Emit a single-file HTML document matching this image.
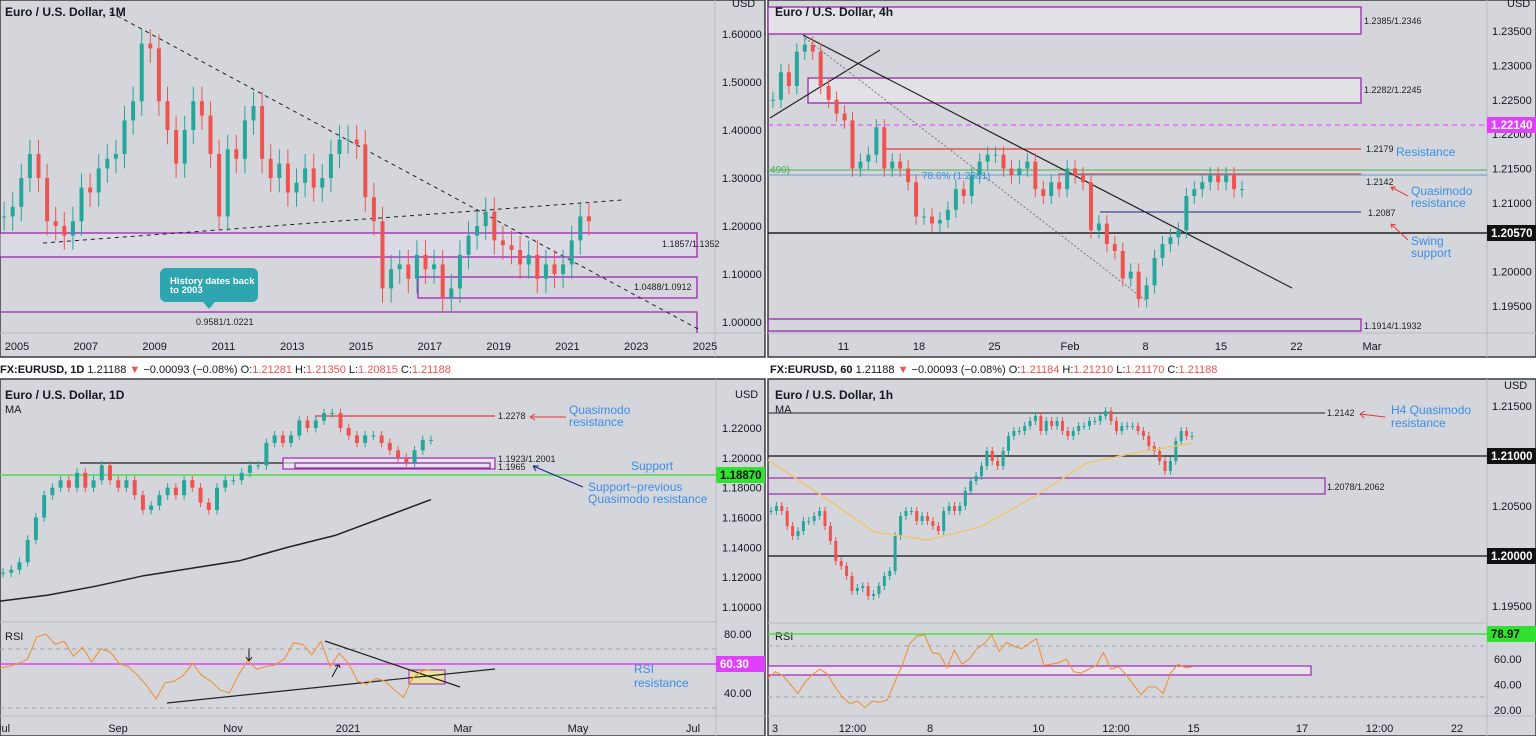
<!DOCTYPE html>
<html><head><meta charset="utf-8"><style>
html,body{margin:0;padding:0;background:#fff;}
svg{display:block;font-family:"Liberation Sans",sans-serif;}
.t{font-size:11px;fill:#131722}
.ax{font-size:11px;fill:#131722}
.ttl{font-size:12px;font-weight:bold;fill:#131722}
.blue{font-size:12px;fill:#3a8ee6}
.sm{font-size:9px;fill:#222}
</style></head><body>
<svg id="s" width="1536" height="736" viewBox="0 0 1536 736" xmlns="http://www.w3.org/2000/svg">
<rect x="0" y="0" width="1536" height="736" fill="#ffffff"/>
<rect x="0" y="0" width="765" height="357" fill="#d4d6dc" stroke="#3a3a3a" stroke-width="1.5"/>
<rect x="768" y="0" width="768" height="357" fill="#d4d6dc" stroke="#3a3a3a" stroke-width="1.5"/>
<rect x="0" y="379" width="765" height="357" fill="#d4d6dc" stroke="#3a3a3a" stroke-width="1.5"/>
<rect x="768" y="379" width="768" height="357" fill="#d4d6dc" stroke="#3a3a3a" stroke-width="1.5"/>
<g stroke="#b8bbc3" stroke-width="1">
<line x1="715" y1="0" x2="715" y2="357"/><line x1="0" y1="333" x2="765" y2="333"/>
<line x1="1487" y1="0" x2="1487" y2="357"/><line x1="768" y1="333" x2="1536" y2="333"/>
<line x1="716" y1="379" x2="716" y2="736"/><line x1="0" y1="716" x2="765" y2="716"/><line x1="0" y1="622" x2="716" y2="622"/>
<line x1="1487" y1="379" x2="1487" y2="736"/><line x1="768" y1="716" x2="1536" y2="716"/><line x1="768" y1="623" x2="1487" y2="623"/>
</g>
<text x="0" y="373" class="t" font-size="12"><tspan font-weight="bold">FX:EURUSD, 1D</tspan> 1.21188 <tspan fill="#ef5350">▼</tspan> −0.00093 (−0.08%) O:<tspan fill="#ef5350">1.21281</tspan> H:<tspan fill="#ef5350">1.21350</tspan> L:<tspan fill="#ef5350">1.20815</tspan> C:<tspan fill="#ef5350">1.21188</tspan></text>
<text x="770" y="373" class="t" font-size="12"><tspan font-weight="bold">FX:EURUSD, 60</tspan> 1.21188 <tspan fill="#ef5350">▼</tspan> −0.00093 (−0.08%) O:<tspan fill="#ef5350">1.21184</tspan> H:<tspan fill="#ef5350">1.21210</tspan> L:<tspan fill="#ef5350">1.21170</tspan> C:<tspan fill="#ef5350">1.21188</tspan></text>

<text x="5" y="16" class="ttl">Euro / U.S. Dollar, 1M</text>
<text x="732" y="7" class="ax" font-size="9">USD</text>
<g fill="none" stroke="#9c27b0" stroke-width="1.3">
<rect x="-2" y="233" width="699" height="24" fill="rgba(230,225,240,0.4)"/>
<rect x="418" y="277" width="279" height="21"/>
<path d="M-2 312 H697 V333"/>
</g>
<text x="662" y="247" class="sm">1.1857/1.1352</text>
<text x="634" y="290" class="sm">1.0488/1.0912</text>
<text x="196" y="325" class="sm">0.9581/1.0221</text>
<line x1="110" y1="12" x2="700" y2="330" stroke="#222" stroke-dasharray="4,4"/>
<line x1="43" y1="243" x2="622" y2="200" stroke="#222" stroke-dasharray="4,4"/>
<g>
<rect x="160" y="268" width="98" height="34" rx="6" fill="#2fa5b0"/>
<path d="M203 302 L209 309 L215 302 Z" fill="#2fa5b0"/>
<text x="170" y="284" font-size="9.5" font-weight="bold" fill="#fff">History dates back</text>
<text x="170" y="293" font-size="9.5" font-weight="bold" fill="#fff">to 2003</text>
</g>

<text x="1507" y="7" class="ax" font-size="9">USD</text>
<g stroke="#9c27b0" stroke-width="1.3" fill="#e2e2e6">
<rect x="768" y="7" width="593" height="27"/>
<rect x="808" y="78" width="553" height="25"/>
<rect x="768" y="319" width="593" height="12" fill="none"/>
</g>
<text x="775" y="16" class="ttl">Euro / U.S. Dollar, 4h</text>
<text x="1364" y="24" class="sm">1.2385/1.2346</text>
<text x="1364" y="93" class="sm">1.2282/1.2245</text>
<text x="1364" y="329" class="sm">1.1914/1.1932</text>
<line x1="768" y1="125" x2="1487" y2="125" stroke="#e040fb" stroke-dasharray="5,4"/>
<line x1="885" y1="149" x2="1361" y2="149" stroke="#e53935" stroke-width="1.2"/>
<line x1="768" y1="170" x2="1487" y2="170" stroke="#4caf50"/>
<line x1="768" y1="175" x2="1487" y2="175" stroke="#5a9fd4"/>
<line x1="1058" y1="174" x2="1361" y2="174" stroke="#e53935"/>
<line x1="1100" y1="212" x2="1361" y2="212" stroke="#1a237e"/>
<line x1="768" y1="233" x2="1487" y2="233" stroke="#222" stroke-width="1.5"/>
<line x1="803" y1="35" x2="1292" y2="288" stroke="#222" stroke-width="1.2"/>
<line x1="770" y1="118" x2="880" y2="50" stroke="#222" stroke-width="1.2"/>
<line x1="805" y1="38" x2="1145" y2="300" stroke="#777" stroke-dasharray="2,2"/>
<text x="770" y="173" font-size="10" fill="#4caf50">490)</text>
<text x="922" y="179" font-size="10" fill="#3a8ee6">78.6% (1.2381)</text>
<text x="1366" y="152" class="sm">1.2179</text>
<text x="1396" y="156" class="blue">Resistance</text>
<text x="1366" y="185" class="sm">1.2142</text>
<text x="1411" y="195" class="blue">Quasimodo</text>
<text x="1411" y="207" class="blue">resistance</text>
<text x="1368" y="216" class="sm">1.2087</text>
<text x="1411" y="245" class="blue">Swing</text>
<text x="1411" y="257" class="blue">support</text>
<g stroke="#e53935" fill="none">
<path d="M1408 196 L1391 187 M1391 187 l5 0 M1391 187 l2 4"/>
<path d="M1408 240 L1391 224 M1391 224 l5 1 M1391 224 l1 4"/>
</g>

<text x="5" y="399" class="ttl">Euro / U.S. Dollar, 1D</text>
<text x="5" y="413" class="t">MA</text>
<text x="735" y="398" class="ax" font-size="9">USD</text>
<line x1="315" y1="416" x2="495" y2="416" stroke="#e53935" stroke-width="1.2"/>
<line x1="80" y1="463" x2="490" y2="463" stroke="#222" stroke-width="1.3"/>
<g fill="none" stroke="#9c27b0" stroke-width="1.2">
<rect x="283" y="458" width="212" height="11" fill="rgba(240,235,245,0.6)"/>
<rect x="295" y="463" width="195" height="5"/>
</g>
<line x1="0" y1="475" x2="716" y2="475" stroke="#4cdc4c" stroke-width="1.5"/>
<text x="498" y="419" class="sm">1.2278</text>
<text x="498" y="462" class="sm">1.1923/1.2001</text>
<text x="498" y="470" class="sm">1.1965</text>
<text x="569" y="414" class="blue">Quasimodo</text>
<text x="569" y="426" class="blue">resistance</text>
<text x="631" y="470" class="blue">Support</text>
<text x="588" y="491" class="blue">Support−previous</text>
<text x="588" y="503" class="blue">Quasimodo resistance</text>
<text x="634" y="673" class="blue">RSI</text>
<text x="634" y="687" class="blue">resistance</text>
<g fill="none">
<path d="M566 417 L530 417 M530 417 l5 -3 M530 417 l5 3" stroke="#e53935"/>
<path d="M583 487 L533 466 M533 466 l6 0 M533 466 l3 5" stroke="#1a237e"/>
<path d="M249 648 L249 661 M249 661 l-3 -4 M249 661 l3 -4" stroke="#111"/>
<path d="M332 677 L339 664 M339 664 l-4 2 M339 664 l1 4" stroke="#111"/>
</g>
<text x="5" y="640" class="t">RSI</text>
<line x1="0" y1="649" x2="716" y2="649" stroke="#a0a3ab" stroke-dasharray="4,4"/>
<line x1="0" y1="708" x2="716" y2="708" stroke="#a0a3ab" stroke-dasharray="4,4"/>
<line x1="0" y1="664" x2="716" y2="664" stroke="#e040fb" stroke-width="1.5"/>
<rect x="409" y="670" width="36" height="14" fill="#e8e29a" stroke="#9c27b0"/>
<line x1="325" y1="641" x2="460" y2="687" stroke="#222" stroke-width="1.2"/>
<line x1="167" y1="703" x2="495" y2="669" stroke="#222" stroke-width="1.2"/>

<text x="775" y="399" class="ttl">Euro / U.S. Dollar, 1h</text>
<text x="775" y="413" class="t">MA</text>
<text x="1504" y="389" class="ax" font-size="9">USD</text>
<line x1="768" y1="413" x2="1325" y2="413" stroke="#444" stroke-width="1.3"/>
<rect x="768" y="478" width="557" height="16" fill="none" stroke="#9c27b0" stroke-width="1.2"/>
<line x1="768" y1="456" x2="1487" y2="456" stroke="#111" stroke-width="1.3"/>
<line x1="768" y1="556" x2="1487" y2="556" stroke="#111" stroke-width="1.3"/>
<text x="1327" y="416" class="sm">1.2142</text>
<text x="1327" y="490" class="sm">1.2078/1.2062</text>
<text x="1391" y="414" class="blue">H4 Quasimodo</text>
<text x="1391" y="427" class="blue">resistance</text>
<path d="M1385 417 L1360 414 M1360 414 l5 -3 M1360 414 l4 4" stroke="#e53935" fill="none"/>
<text x="775" y="640" class="t">RSI</text>
<line x1="768" y1="646" x2="1487" y2="646" stroke="#a0a3ab" stroke-dasharray="4,4"/>
<line x1="768" y1="697" x2="1487" y2="697" stroke="#a0a3ab" stroke-dasharray="4,4"/>
<line x1="768" y1="634" x2="1487" y2="634" stroke="#4cdc4c" stroke-width="1.5"/>
<rect x="768" y="666" width="543" height="9" fill="rgba(245,235,248,0.6)" stroke="#9c27b0" stroke-width="1.2"/>

<g id="dyn"></g>
</svg>
<script>
const tlStartYear = 2004.5;
const tlCloses = [1.22,1.24,1.30,1.35,1.30,1.21,1.20,1.18,1.21,1.28,1.27,1.32,1.34,1.35,1.42,1.46,1.58,1.57,1.46,1.40,1.33,1.40,1.46,1.43,1.35,1.22,1.36,1.34,1.42,1.45,1.34,1.30,1.33,1.27,1.29,1.32,1.28,1.30,1.35,1.38,1.38,1.37,1.26,1.21,1.07,1.11,1.12,1.09,1.14,1.11,1.12,1.05,1.07,1.14,1.18,1.20,1.23,1.17,1.16,1.15,1.12,1.14,1.09,1.12,1.10,1.12,1.17,1.22,1.21];
const tlPriceTicks = [1.6,1.5,1.4,1.3,1.2,1.1,1.0];
const tlYearTicks = [2005,2007,2009,2011,2013,2015,2017,2019,2021,2023,2025];
const trCloses = [1.2250,1.2290,1.2270,1.2320,1.2330,1.2320,1.2270,1.2250,1.2230,1.2220,
 1.2150,1.2160,1.2170,1.2210,1.2150,1.2160,1.2150,1.2130,1.2080,1.2080,
 1.2070,1.2075,1.2090,1.2120,1.2110,1.2140,1.2160,1.2170,1.2170,1.2150,
 1.2140,1.2150,1.2160,1.2120,1.2110,1.2130,1.2120,1.2150,1.2140,1.2130,
 1.2060,1.2070,1.2040,1.2030,1.1990,1.2000,1.1960,1.1980,1.2020,1.2040,
 1.2050,1.2060,1.2110,1.2120,1.2130,1.2140,1.2130,1.2140,1.2120,1.2120];
const trPriceTicks = [1.235,1.23,1.225,1.22,1.215,1.21,1.2,1.195];
const trTimeLabels = ["11","18","25","Feb","8","15","22","Mar"];
const trTimeDays = [5,10,15,20,25,30,35,40];
const blCloses = [1.123,1.125,1.130,1.145,1.160,1.175,1.180,1.185,1.180,1.190,1.180,1.185,1.195,1.185,1.180,1.185,1.175,1.165,1.168,1.175,1.180,1.175,1.185,1.180,1.170,1.165,1.180,1.185,1.185,1.190,1.195,1.195,1.210,1.215,1.210,1.215,1.225,1.220,1.225,1.230,1.230,1.220,1.215,1.210,1.215,1.215,1.210,1.205,1.200,1.197,1.205,1.212,1.212];
const blMA = [1.104,1.108,1.114,1.121,1.126,1.131,1.140,1.148,1.160,1.172];
const blRSI = [57,58,60,63,78,80,73,75,65,71,61,70,68,60,58,52,45,36,47,48,52,60,52,48,42,40,52,62,56,58,59,63,74,73,66,75,58,67,60,48,46,50,48,42,37,50,55,56];
const blPriceTicks = [1.22,1.2,1.18,1.16,1.14,1.12,1.1];
const blRsiTicks = [80,40];
const blTimeLabels = ["Jul","Sep","Nov","2021","Mar","May","Jul"];
const blTimeMonths = [0,2,4,6,8,10,12];
const brCloses = [1.2045,1.2050,1.2045,1.2030,1.2020,1.2025,1.2035,1.2035,1.2040,1.2045,1.2030,1.2015,1.1995,1.1990,1.1980,1.1965,1.1968,1.1970,1.1960,1.1962,1.1970,1.1980,1.1985,1.2020,1.2040,1.2045,1.2045,1.2035,1.2040,1.2035,1.2030,1.2025,1.2045,1.2050,1.2045,1.2050,1.2065,1.2075,1.2080,1.2090,1.2105,1.2095,1.2090,1.2105,1.2120,1.2125,1.2125,1.2130,1.2135,1.2140,1.2125,1.2135,1.2130,1.2135,1.2125,1.2120,1.2125,1.2130,1.2130,1.2135,1.2135,1.2140,1.2145,1.2135,1.2125,1.2130,1.2130,1.2130,1.2125,1.2120,1.2110,1.2105,1.2095,1.2085,1.2095,1.2115,1.2125,1.2120,1.2120];
const brMA = [1.2096,1.2061,1.2024,1.2016,1.2029,1.2059,1.2093,1.2104,1.2113];
const brRSI = [45,50,47,40,33,42,48,52,48,38,30,25,27,22,27,26,28,42,55,72,78,79,65,64,53,67,56,60,68,72,79,66,73,70,68,72,76,55,56,57,60,50,49,52,55,65,52,54,48,40,32,38,38,33,49,56,53,54];
const brPriceTicks = [1.215,1.205,1.195];
const brRsiTicks = [60,40,20];
const brTimeLabels = ["3","12:00","8","10","12:00","15","17","12:00","22"];
const brTimeSlots = [0,1,2,3.4,4.4,5.4,6.8,7.8,8.8];

const NS="http://www.w3.org/2000/svg";
const dyn=document.getElementById('dyn');
function mk(tag,attrs,parent){const e=document.createElementNS(NS,tag);for(const k in attrs)e.setAttribute(k,attrs[k]);(parent||dyn).appendChild(e);return e;}
const UP="#26a69a", DN="#ef5350";
function drawCandles(closes,x0,step,yf,wick,bw,prefix){
  const g=mk('g',{});
  
  
  closes.forEach((c,i)=>{
    const o=i?closes[i-1]:c;
    const x=x0+i*step;
    const col=c>=o?UP:DN;
    const hi=Math.max(o,c)+wick, lo=Math.min(o,c)-wick;
    const w=mk('line',{x1:x,x2:x,y1:yf(hi),y2:yf(lo),stroke:col,'stroke-width':1},g);
    
    
    const yt=yf(Math.max(o,c)), yb=yf(Math.min(o,c));
    const r=mk('rect',{x:x-bw/2,y:yt,width:bw,height:Math.max(1,yb-yt),fill:col},g);
    
    
  });
}
function drawLine(vals,x0,x1,yf,color,w,name){
  const step=(x1-x0)/(vals.length-1);
  const d=vals.map((v,i)=>(i?'L':'M')+(x0+i*step).toFixed(1)+' '+yf(v).toFixed(1)).join(' ');
  const p=mk('path',{d:d,fill:'none',stroke:color,'stroke-width':w});
  
  
}
function label(x,y,txt,name,anchor){
  const t=mk('text',{x:x,y:y,'font-size':11,fill:'#131722','text-anchor':anchor||'start'});
  t.textContent=txt;
  
  
}
function badge(x,y,txt,bg,fg,name){
  const r=mk('rect',{x:x,y:y-8,width:49,height:16,fill:bg});
  
  
  const t=mk('text',{x:x+4,y:y+4,'font-size':11.5,'font-weight':'bold',fill:fg});
  t.textContent=txt;
  
  
}

const yTL=p=>34+(1.6-p)*480;
const xTL=yr=>17+(yr-2005)*34.4;
drawCandles(tlCloses,xTL(tlStartYear+0.125),34.4*0.25,yTL,0.03,4,'tl');
tlPriceTicks.forEach(p=>label(722,yTL(p)+4,p.toFixed(5),'tl-price-tick'));
tlYearTicks.forEach(y=>label(xTL(y),350,String(y),'tl-year-tick','middle'));

const yTR=p=>31+(1.235-p)*6875;
const trX0=773, trStep=(1242-773)/(trCloses.length-1);
drawCandles(trCloses,trX0,trStep,yTR,0.0012,4,'tr');
trPriceTicks.forEach(p=>label(1492,yTR(p)+4,p.toFixed(5),'tr-price-tick'));
const trDayPx=15.1;
trTimeLabels.forEach((l,i)=>label(768+trTimeDays[i]*trDayPx,350,l,'tr-time-tick','middle'));
badge(1487,125,'1.22140','#e040fb','#fff','tr-badge-magenta');
badge(1487,233,'1.20570','#111','#fff','tr-badge-black');

const yBL=p=>428+(1.22-p)*1492;
const yBLr=v=>634+(80-v)*1.475;
drawCandles(blCloses,3,(431-3)/(blCloses.length-1),yBL,0.003,4,'bl');
drawLine(blMA,0,431,yBL,'#222',1.5,'bl-moving-average');
drawLine(blRSI,0,431,yBLr,'#f0913a',1.1,'bl-rsi-line');
blPriceTicks.forEach(p=>label(722,yBL(p)+4,p.toFixed(5),'bl-price-tick'));
blRsiTicks.forEach(v=>label(724,yBLr(v)+4,v.toFixed(2),'bl-rsi-tick'));
blTimeLabels.forEach((l,i)=>label(3+blTimeMonths[i]*57.5,732,l,'bl-time-tick','middle'));
badge(716,475,'1.18870','#32e032','#111','bl-badge-green');
badge(716,664,'60.30','#e040fb','#fff','bl-badge-rsi');

const yBR=p=>406+(1.215-p)*10000;
const yBRr=v=>659+(60-v)*1.275;
drawCandles(brCloses,771,(1192-771)/(brCloses.length-1),yBR,0.0004,3,'br');
drawLine(brMA,768,1193,yBR,'#f2c46e',1.4,'br-moving-average');
drawLine(brRSI,768,1193,yBRr,'#f0913a',1.1,'br-rsi-line');
brPriceTicks.forEach(p=>label(1492,yBR(p)+4,p.toFixed(5),'br-price-tick'));
brRsiTicks.forEach(v=>label(1494,yBRr(v)+4,v.toFixed(2),'br-rsi-tick'));
brTimeLabels.forEach((l,i)=>label(775+brTimeSlots[i]*77.5,732,l,'br-time-tick','middle'));
badge(1487,456,'1.21000','#111','#fff','br-badge-121');
badge(1487,556,'1.20000','#111','#fff','br-badge-120');
badge(1487,634,'78.97','#32e032','#111','br-badge-rsi');
</script>
</body></html>
